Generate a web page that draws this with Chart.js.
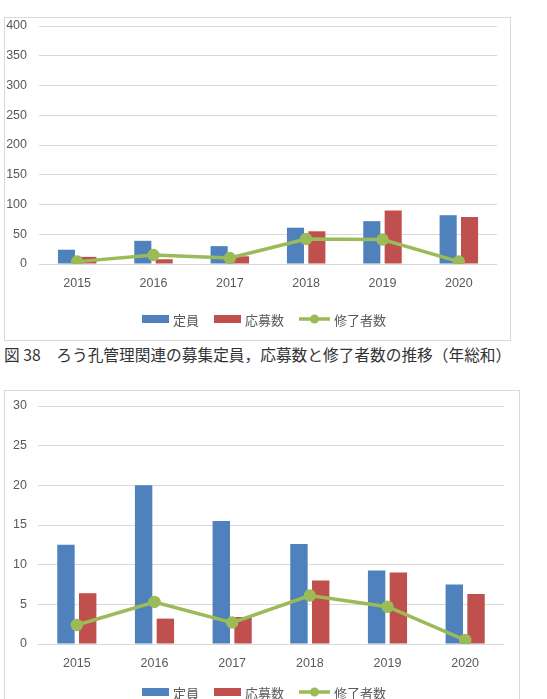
<!DOCTYPE html>
<html>
<head>
<meta charset="utf-8">
<script src="https://cdn.jsdelivr.net/npm/chart.js@4.4.1/dist/chart.umd.min.js"></script>
<style>
  body { margin: 0; background: #fff; width: 547px; height: 699px; overflow: hidden; position: relative; }
  .caja { position: absolute; border: 1px solid #d9d9d9; box-sizing: border-box; }
  #caja1 { left: 4px; top: 17px; width: 507px; height: 324px; }
  #caja2 { left: 4px; top: 390px; width: 516px; height: 330px; }
  #leyenda { position: absolute; left: 4px; top: 343px; font: 15.7px "Noto Sans CJK JP", sans-serif; color: #333; white-space: nowrap; }
  canvas { position: absolute; left: 0; top: 0; }
</style>
</head>
<body>
<div class="caja" id="caja1"><canvas id="grafico1" width="505" height="322"></canvas></div>
<div id="leyenda">図 38　ろう孔管理関連の募集定員，応募数と修了者数の推移（年総和）</div>
<div class="caja" id="caja2"><canvas id="grafico2" width="514" height="328"></canvas></div>
<script>
// Datos
const anos = ['2015', '2016', '2017', '2018', '2019', '2020'];

const teiin1 = [24, 39, 30, 61, 72, 82];
const oubo1 = [12, 8, 13, 55, 90, 79];
const shuryo1 = [4, 15, 10, 42, 41, 4];

const teiin2 = [12.5, 20, 15.5, 12.6, 9.25, 7.5];
const oubo2 = [6.4, 3.2, 3.4, 8.0, 9.0, 6.3];
const shuryo2 = [2.4, 5.3, 2.7, 6.1, 4.7, 0.5];

const nombres = ['定員', '応募数', '修了者数'];
const AZUL = '#4f81bd', ROJO = '#c0504d', VERDE = '#9bbb59';

// leyenda dibujada a mano, con la barra/linea de cada serie
const leyendaPlugin = {
    id: 'leyendaInferior',
    afterDraw(chart, args, opts) {
        const ctx = chart.ctx;
        ctx.save();
        ctx.font = '13px "Noto Sans CJK JP", sans-serif';
        ctx.textBaseline = 'middle';
        const items = chart.data.datasets.map(ds => ({
            texto: ds.label,
            ancho: ds.type === 'line' ? 31 : 27,
            tipo: ds.type,
            color: ds.borderColor
        }));
        let total = 0;
        items.forEach((it, i) => {
            it.w = it.ancho + 4 + ctx.measureText(it.texto).width;
            total += it.w + (i < items.length - 1 ? 15 : 0);
        });
        let x = opts.centroX - total / 2;
        const y = opts.y;
        items.forEach(it => {
            if (it.tipo === 'line') {
                ctx.strokeStyle = it.color;
                ctx.lineWidth = 3.5;
                ctx.beginPath();
                ctx.moveTo(x, y);
                ctx.lineTo(x + it.ancho, y);
                ctx.stroke();
                ctx.fillStyle = it.color;
                ctx.beginPath();
                ctx.arc(x + it.ancho / 2, y, 4.5, 0, Math.PI * 2);
                ctx.fill();
            } else {
                ctx.fillStyle = it.color;
                ctx.fillRect(x, y - 4, it.ancho, 8);
            }
            ctx.fillStyle = '#595959';
            ctx.fillText(it.texto, x + it.ancho + 4, y + 1);
            x += it.w + 15;
        });
        ctx.restore();
    }
};

function crearGrafico(id, teiin, oubo, shuryo, cfg) {
    const ctx = document.getElementById(id).getContext('2d');
    const fuente = { family: '"Liberation Sans", Arial, sans-serif', size: 12.5 };
    return new Chart(ctx, {
        type: 'bar',
        data: {
            labels: anos,
            datasets: [
                { label: nombres[0], data: teiin, backgroundColor: AZUL, borderColor: AZUL, order: 1,
                  categoryPercentage: 0.56, barPercentage: 0.8 },
                { label: nombres[1], data: oubo, backgroundColor: ROJO, borderColor: ROJO, order: 1,
                  categoryPercentage: 0.56, barPercentage: 0.8 },
                { label: nombres[2], data: shuryo, type: 'line', borderColor: VERDE, backgroundColor: VERDE,
                  borderWidth: 3.5, pointRadius: 4.5, pointHoverRadius: 4.5, tension: 0, order: 0 }
            ]
        },
        options: {
            responsive: false,
            animation: false,
            layout: { padding: { top: cfg.arriba, right: cfg.derecha, left: 0, bottom: 0 } },
            plugins: {
                legend: { display: false },
                tooltip: { enabled: false },
                leyendaInferior: { centroX: cfg.centroX, y: cfg.leyendaY }
            },
            scales: {
                x: {
                    grid: { display: false, drawTicks: false },
                    border: { display: false },
                    ticks: { color: '#595959', font: fuente, padding: 12 },
                    afterFit: s => { s.height = cfg.altoX; }
                },
                y: {
                    min: 0,
                    max: cfg.max,
                    ticks: { stepSize: cfg.paso, color: '#595959', font: fuente, padding: 0 },
                    grid: { color: '#d9d9d9', lineWidth: 1, drawTicks: true, tickLength: cfg.hueco, tickColor: 'rgba(0,0,0,0)' },
                    border: { display: false },
                    afterFit: s => { s.width = cfg.anchoY; }
                }
            }
        },
        plugins: [leyendaPlugin]
    });
}

crearGrafico('grafico1', teiin1, oubo1, shuryo1,
    { max: 400, paso: 50, arriba: 7, derecha: 13, altoX: 76, anchoY: 34, hueco: 12, centroX: 259, leyendaY: 301 });
crearGrafico('grafico2', teiin2, oubo2, shuryo2,
    { max: 30, paso: 5, arriba: 15, derecha: 15, altoX: 75, anchoY: 33, hueco: 11, centroX: 259, leyendaY: 301 });
</script>
</body>
</html>
